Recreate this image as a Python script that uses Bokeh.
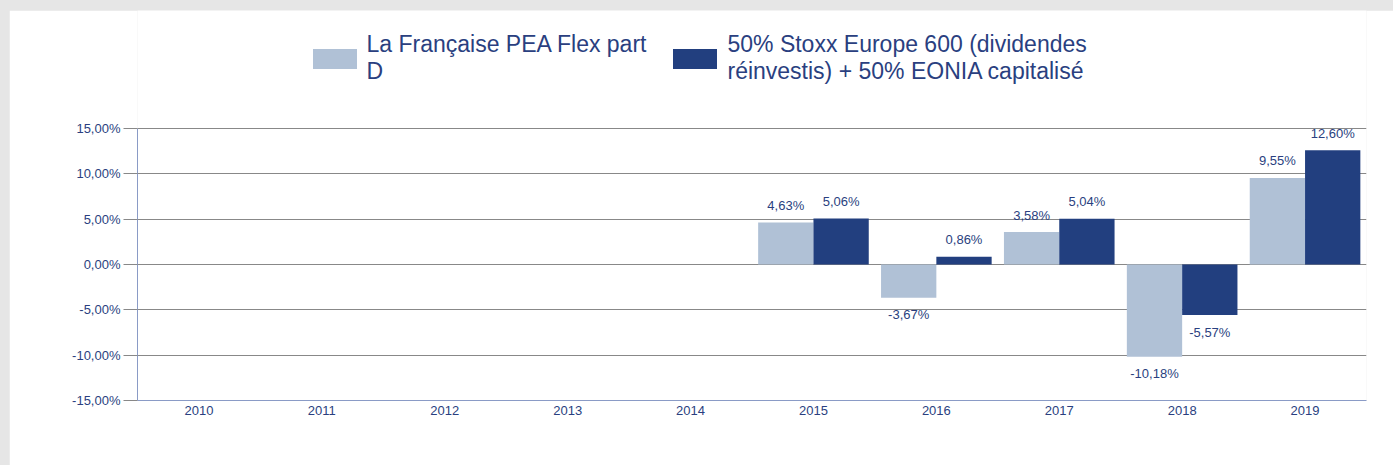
import math
from bokeh.plotting import figure
from bokeh.models import (ColumnDataSource, FactorRange, Range1d, Legend, LegendItem,
                          CustomJSTickFormatter, FixedTicker, Column)
from bokeh.transform import dodge
from bokeh.core.properties import value
from bokeh.embed import file_html
from bokeh.resources import INLINE

years = ["2010", "2011", "2012", "2013", "2014", "2015", "2016", "2017", "2018", "2019"]
fund = [None, None, None, None, None, 4.63, -3.67, 3.58, -10.18, 9.55]
bench = [None, None, None, None, None, 5.06, 0.86, 5.04, -5.57, 12.60]
series_names = ["La Française PEA Flex part\nD",
                "50% Stoxx Europe 600 (dividendes\nréinvestis) + 50% EONIA capitalisé"]
y_ticks = [-15, -10, -5, 0, 5, 10, 15]

LIGHT = "#b0c1d6"
DARK = "#223f7f"
TXT = "#2a3f80"
FONT = "Liberation Sans"

# layout geometry (pixels)
AXIS_H = 272          # height of the -15..15 band
TOP_EXTRA = 118       # space above the 15% line that still belongs to the frame (for the legend)
Y_MIN, Y_MAX = -15, 15
y_end = Y_MAX + TOP_EXTRA * (Y_MAX - Y_MIN) / AXIS_H


def make_src(vals):
    xs = [y for y, v in zip(years, vals) if v is not None]
    vs = [v for v in vals if v is not None]
    labels = [("%.2f" % v).replace(".", ",") + "%" for v in vs]
    offs = [-17 if v >= 0 else 17 for v in vs]
    return ColumnDataSource(dict(year=xs, val=vs, label=labels, off=offs))


src_f = make_src(fund)
src_b = make_src(bench)

p = figure(width=1384, height=455, x_range=FactorRange(*years), y_range=Range1d(Y_MIN, y_end),
           output_backend="svg", toolbar_location=None,
           min_border_left=128, min_border_right=27, min_border_top=0, min_border_bottom=65,
           margin=(10, 0, 0, 9))
p.background_fill_color = "white"
p.border_fill_color = "white"
p.outline_line_color = None

r1 = p.vbar(x=dodge("year", -0.225, range=p.x_range), top="val", bottom=0, width=0.45,
            source=src_f, fill_color=LIGHT, line_color=None)
r2 = p.vbar(x=dodge("year", 0.225, range=p.x_range), top="val", bottom=0, width=0.45,
            source=src_b, fill_color=DARK, line_color=None)

for src, dx in ((src_f, -0.225), (src_b, 0.225)):
    p.text(x=dodge("year", dx, range=p.x_range), y="val", text="label", y_offset="off",
           source=src, text_align="center", text_baseline="middle",
           text_font=value(FONT), text_font_size="13px", text_color=TXT)

p.xgrid.grid_line_color = None
p.ygrid.grid_line_color = "#888888"
p.ygrid.grid_line_width = 1

p.yaxis.ticker = FixedTicker(ticks=y_ticks)
p.yaxis.bounds = (Y_MIN, Y_MAX)
p.yaxis.formatter = CustomJSTickFormatter(code="return tick.toFixed(2).replace('.', ',') + '%';")
p.yaxis.axis_line_color = "#8a9bc6"
p.yaxis.major_tick_line_color = "#888888"
p.yaxis.major_tick_out = 14
p.yaxis.major_tick_in = 0
p.yaxis.minor_tick_line_color = None
p.yaxis.major_label_standoff = 3
p.yaxis.major_label_text_font = FONT
p.yaxis.major_label_text_font_size = "13px"
p.yaxis.major_label_text_color = TXT

p.xaxis.axis_line_color = "#8a9bc6"
p.xaxis.major_tick_line_color = None
p.xaxis.minor_tick_line_color = None
p.xaxis.major_tick_out = 0
p.xaxis.major_tick_in = 0
p.xaxis.major_label_standoff = 5
p.xaxis.major_label_text_font = FONT
p.xaxis.major_label_text_font_size = "13px"
p.xaxis.major_label_text_color = TXT

legend = Legend(items=[LegendItem(label=series_names[0], renderers=[r1]),
                       LegendItem(label=series_names[1], renderers=[r2])],
                orientation="horizontal", location=(169.5, 315))
legend.padding = 0
legend.margin = 0
legend.spacing = 21
legend.glyph_width = 55
legend.glyph_height = 25
legend.label_standoff = 5
legend.label_text_font = FONT
legend.label_text_font_size = "23px"
legend.label_text_color = TXT
legend.border_line_color = None
legend.background_fill_alpha = 0
p.add_layout(legend, "center")

layout = Column(p, width=1393, height=465, styles={"background-color": "#e6e6e6"})

open("out.html", "w").write(file_html(layout, INLINE))
